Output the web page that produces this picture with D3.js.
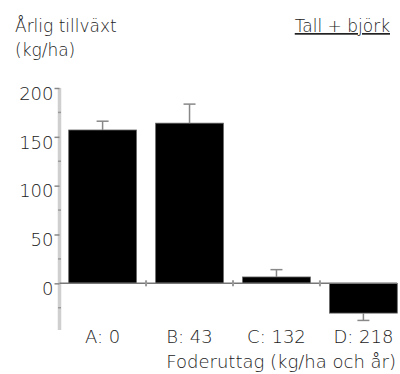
<!DOCTYPE html>
<html>
<head>
<meta charset="utf-8">
<script src="https://cdn.jsdelivr.net/npm/d3@7"></script>
<style>
  body { margin: 0; background: #fff; }
  svg text { font-family: "DejaVu Sans", sans-serif; font-weight: 200; fill: #222; }
</style>
</head>
<body>
<div id="chart"></div>
<script>
var categories = ["A: 0", "B: 43", "C: 132", "D: 218"];
var growth = [157, 164, 6.5, -30.5];
var errors = [9, 19.5, 7.5, 7.5];
var majorTicks = [0, 50, 100, 150, 200];
var minorTicks = [-25, 25, 75, 125, 175];

var width = 400, height = 374;
var axisX = 59.5;

var svg = d3.select("#chart").append("svg")
  .attr("width", width)
  .attr("height", height);

var x = d3.scaleBand()
  .domain(categories)
  .range([60, 406])
  .paddingInner(0.22)
  .paddingOuter(0.1);

var y = d3.scaleLinear()
  .domain([-47.8, 200])
  .range([330, 88]);

var data = categories.map(function(c, i) {
  return {cat: c, value: growth[i], err: errors[i]};
});

// titles
svg.append("text")
  .attr("x", 15).attr("y", 32)
  .style("font-size", "17px")
  .text("Årlig tillväxt");
svg.append("text")
  .attr("x", 15).attr("y", 56)
  .style("font-size", "17px")
  .text("(kg/ha)");
svg.append("text")
  .attr("x", 390).attr("y", 32)
  .attr("text-anchor", "end")
  .style("font-size", "17px")
  .style("text-decoration", "underline")
  .text("Tall + björk");

// y axis
var yAxis = svg.append("g")
  .attr("transform", "translate(" + axisX + ",0)")
  .call(d3.axisLeft(y).tickValues(majorTicks).tickSize(5).tickPadding(1));
yAxis.select(".domain")
  .attr("d", "M0," + y.range()[1] + "V" + y.range()[0])
  .attr("stroke", "#cfcfcf")
  .attr("stroke-width", 3.5);
yAxis.selectAll(".tick line").attr("stroke", "#888").attr("stroke-width", 1.5);
yAxis.selectAll(".tick text")
  .attr("dy", "0.62em")
  .style("font-size", "18px")
  .style("font-family", "DejaVu Sans, sans-serif")
  .attr("fill", "#222");

svg.append("g").selectAll("line.minor")
  .data(minorTicks)
  .enter().append("line")
  .attr("class", "minor")
  .attr("x1", axisX - 1.5).attr("x2", axisX + 1.5)
  .attr("y1", function(d) { return y(d); })
  .attr("y2", function(d) { return y(d); })
  .attr("stroke", "#999")
  .attr("stroke-width", 1.5);

// bars
svg.selectAll("rect.bar")
  .data(data)
  .enter().append("rect")
  .attr("class", "bar")
  .attr("x", function(d) { return x(d.cat); })
  .attr("width", x.bandwidth())
  .attr("y", function(d) { return y(Math.max(0, d.value)); })
  .attr("height", function(d) { return Math.abs(y(d.value) - y(0)); })
  .attr("fill", "#000")
  .attr("stroke", "#666")
  .attr("stroke-width", 0.8);

// error bars
var eb = svg.selectAll("g.err")
  .data(data)
  .enter().append("g")
  .attr("class", "err");
eb.append("line")
  .attr("x1", function(d) { return x(d.cat) + x.bandwidth() / 2; })
  .attr("x2", function(d) { return x(d.cat) + x.bandwidth() / 2; })
  .attr("y1", function(d) { return y(d.value); })
  .attr("y2", function(d) { return y(d.value + (d.value < 0 ? -d.err : d.err)); })
  .attr("stroke", "#888")
  .attr("stroke-width", 1.5);
eb.append("line")
  .attr("x1", function(d) { return x(d.cat) + x.bandwidth() / 2 - 6; })
  .attr("x2", function(d) { return x(d.cat) + x.bandwidth() / 2 + 6; })
  .attr("y1", function(d) { return y(d.value + (d.value < 0 ? -d.err : d.err)); })
  .attr("y2", function(d) { return y(d.value + (d.value < 0 ? -d.err : d.err)); })
  .attr("stroke", "#888")
  .attr("stroke-width", 1.5);

// zero line with ticks between bars
svg.append("line")
  .attr("x1", axisX).attr("x2", 397)
  .attr("y1", y(0)).attr("y2", y(0))
  .attr("stroke", "#777")
  .attr("stroke-width", 1.5);
var gaps = categories.slice(1).map(function(c) {
  return x(c) - x.step() * x.paddingInner() / 2;
});
svg.selectAll("line.gap")
  .data(gaps)
  .enter().append("line")
  .attr("class", "gap")
  .attr("x1", function(d) { return d; })
  .attr("x2", function(d) { return d; })
  .attr("y1", y(0) - 3).attr("y2", y(0) + 3)
  .attr("stroke", "#999")
  .attr("stroke-width", 2);

// category labels
svg.selectAll("text.cat")
  .data(categories)
  .enter().append("text")
  .attr("class", "cat")
  .attr("x", function(d) { return x(d) + x.bandwidth() / 2; })
  .attr("y", 343)
  .attr("text-anchor", "middle")
  .style("font-size", "18px")
  .text(function(d) { return d; });

svg.append("text")
  .attr("x", 396).attr("y", 368)
  .attr("text-anchor", "end")
  .style("font-size", "18px")
  .text("Foderuttag (kg/ha och år)");
</script>
</body>
</html>
